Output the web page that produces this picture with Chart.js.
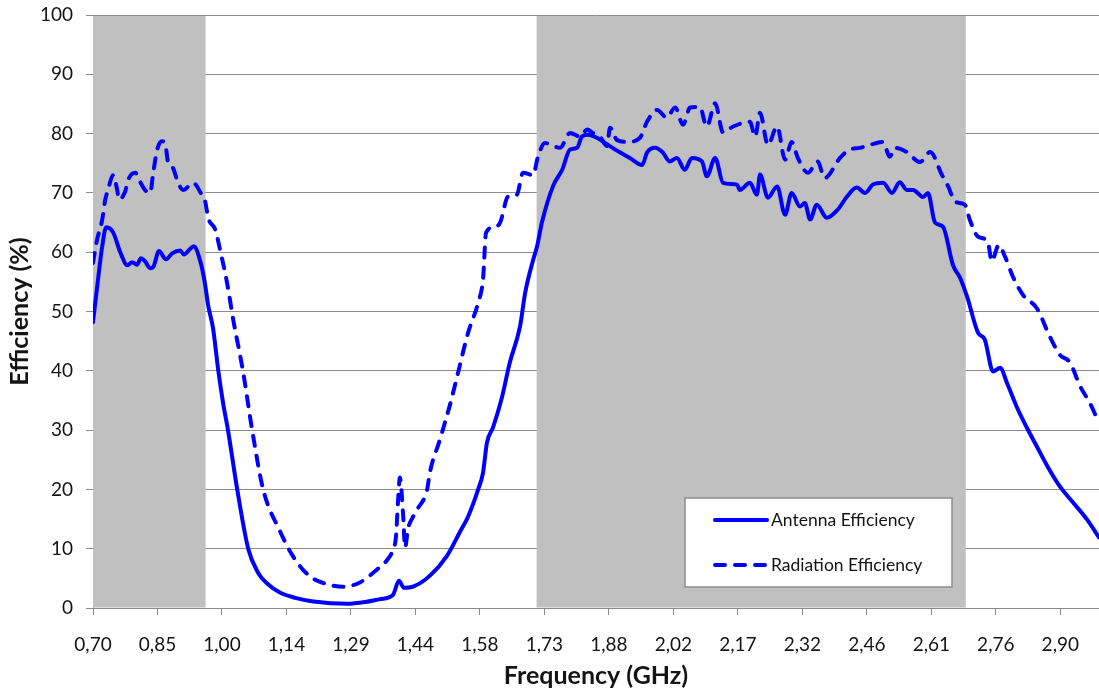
<!DOCTYPE html>
<html>
<head>
<meta charset="utf-8">
<script src="https://cdn.jsdelivr.net/npm/chart.js@4.4.0/dist/chart.umd.min.js"></script>
<style>
  html, body { margin: 0; padding: 0; background: #fff; }
  #wrap { width: 1099px; height: 693px; }
</style>
</head>
<body>
<div id="wrap"><canvas id="chart"></canvas></div>
<script>
// ================== Data ==================
const antFreq = [0.700,0.714,0.721,0.730,0.746,0.762,0.778,0.789,0.800,0.809,0.818,0.830,0.837,0.850,0.866,0.880,0.898,0.907,0.919,0.929,
  0.945,0.954,0.962,0.973,0.985,0.996,1.007,1.028,1.053,1.075,1.098,1.125,1.160,1.201,1.278,1.319,1.353,1.382,1.396,1.407,
  1.428,1.467,1.505,1.535,1.553,1.576,1.587,1.596,1.610,1.630,1.648,1.671,1.683,1.701,1.710,1.721,1.746,1.767,1.785,1.801,
  1.812,1.826,1.846,1.869,1.899,1.921,1.949,1.960,1.978,1.996,2.012,2.028,2.046,2.062,2.085,2.096,2.115,2.133,2.165,2.171,
  2.194,2.210,2.217,2.235,2.256,2.274,2.289,2.308,2.319,2.331,2.346,2.369,2.394,2.415,2.437,2.456,2.474,2.497,2.517,2.535,
  2.551,2.565,2.588,2.599,2.615,2.633,2.656,2.672,2.688,2.713,2.728,2.747,2.763,2.779,2.801,2.824,2.847,2.870,2.899,2.929,
  2.961,2.988];
const antEff = [48.2,57,61,64.2,63.3,60,57.8,58.3,57.9,59,58.5,57.3,57.5,60.2,58.8,59.8,60.3,59.6,60.4,61,
  58.2,55,51,47.2,40,34.5,30,20,10,6,4,2.6,1.7,1.1,0.7,1.0,1.5,2.2,4.6,3.4,
  3.6,5.5,8.8,12.9,15.4,20,22.8,27.9,30.5,35.5,41.4,47.4,53.2,58.7,61,65,71.1,73.9,77.3,77.6,
  79.5,79.8,79.3,78.2,76.8,75.9,74.7,76.8,77.6,76.8,75.3,75.9,73.9,75.9,75.3,72.8,75.9,71.7,71.4,70.5,
  71.7,69.7,73.1,69.2,71.1,66.3,70,67.7,68.3,65.5,68,65.8,67.2,69.4,70.9,70,71.4,71.7,70,71.8,
  70.5,70.5,69.3,70,65,64.3,57.8,55.7,52.5,46.4,45.3,39.9,40.5,37.9,33.9,30.4,27.2,24,20.5,17.8,
  14.9,11.9];

const radFreq = [0.700,0.709,0.721,0.728,0.734,0.746,0.755,0.759,0.773,0.780,0.796,0.807,0.818,0.830,0.837,0.846,0.857,0.864,0.871,0.882,
  0.891,0.905,0.928,0.945,0.955,0.962,0.978,0.989,1.005,1.019,1.041,1.062,1.087,1.125,1.155,1.194,1.239,1.269,1.307,1.346,
  1.369,1.382,1.389,1.394,1.398,1.405,1.410,1.416,1.428,1.439,1.460,1.466,1.489,1.512,1.528,1.553,1.576,1.587,1.594,1.614,
  1.626,1.644,1.664,1.678,1.701,1.712,1.728,1.762,1.785,1.808,1.824,1.837,1.853,1.869,1.876,1.892,1.915,1.944,1.960,1.983,
  2.005,2.024,2.042,2.058,2.080,2.096,2.115,2.133,2.156,2.194,2.206,2.217,2.235,2.256,2.274,2.289,2.303,2.326,2.348,2.364,
  2.399,2.421,2.444,2.467,2.497,2.512,2.524,2.551,2.581,2.604,2.631,2.645,2.661,2.683,2.694,2.713,2.735,2.744,2.760,2.774,
  2.792,2.815,2.847,2.876,2.899,2.922,2.945,2.967,2.988];
const radEff = [58.2,62,65.5,68.9,70.5,73,70.5,68.9,70.2,72.2,73.4,71.9,70.5,70,73.4,77.3,78.7,78.4,75,74.2,
  72.2,70.5,71.7,70,68.6,65.8,63.8,60.4,54.8,48.6,40,30,20,13,8.7,5.3,3.9,3.6,4.3,6.5,
  8.1,9.8,12,18.3,22,16.1,10.2,13.2,15.4,16.8,20,22.8,28.4,34.3,39,46.4,51.5,55.4,63.3,64.3,
  65,69.4,69.7,73.4,73,76.1,78.4,77.6,80.1,79.5,80.7,80.1,79.5,77.9,81,78.9,78.6,79.3,82,84,
  82.7,84.4,81.5,84.4,84.5,81.2,85.1,80.2,81.2,82,79.5,83.5,78.1,81.2,75.6,78.6,75.9,73.4,75.3,72.5,
  75.9,77.3,77.6,78.1,78.6,76.1,77.6,76.9,75.2,76.9,73,71.1,68.5,68,65.5,62.6,61.8,58.5,61.2,59.3,
  55.9,52.8,50.5,45.8,42.7,41.4,37.4,34.6,31.2];

// x axis ticks (Excel category labels)
const xTickValues = [0.7, 0.8467, 0.9933, 1.14, 1.2867, 1.4333, 1.58, 1.7267, 1.8733, 2.02, 2.1667, 2.3133, 2.46, 2.6067, 2.7533, 2.90];
const xTickLabels = ['0,70','0,85','1,00','1,14','1,29','1,44','1,58','1,73','1,88','2,02','2,17','2,32','2,46','2,61','2,76','2,90'];

// grey frequency bands
const bandStart = [0.700, 1.709];
const bandEnd = [0.956, 2.685];

const FONT = 'Lato, "Open Sans", sans-serif';
const TEXT = '#141414';
const GRID = '#8c8c8c';

// ================== Plugins ==================
// grey bands behind the curves (over the gridlines, like Excel)
const BandPlugin = {
  id: 'bands',
  beforeDatasetsDraw(chart) {
    const { ctx, chartArea: a, scales: { x } } = chart;
    ctx.save();
    ctx.fillStyle = '#c0c0c0';
    bandStart.forEach((s, i) => {
      const x0 = x.getPixelForValue(s);
      const x1 = x.getPixelForValue(bandEnd[i]);
      ctx.fillRect(x0, a.top + 1, x1 - x0, a.bottom - a.top - 1.5);
    });
    ctx.restore();
  }
};

// boxed legend inside the plot, bottom right
const BoxLegendPlugin = {
  id: 'boxLegend',
  afterDraw(chart, args, opts) {
    const { ctx } = chart;
    const { left, top, width, height } = opts;
    ctx.save();
    ctx.fillStyle = '#fff';
    ctx.fillRect(left, top, width, height);
    ctx.strokeStyle = GRID;
    ctx.lineWidth = 1.5;
    ctx.strokeRect(left, top, width, height);
    ctx.font = '17.5px ' + FONT;
    ctx.textBaseline = 'middle';
    ctx.fillStyle = TEXT;
    chart.data.datasets.forEach((ds, i) => {
      const y = top + 22 + i * 45;
      ctx.strokeStyle = ds.borderColor;
      ctx.lineWidth = ds.borderWidth;
      ctx.lineCap = 'round';
      ctx.setLineDash(ds.borderDash || []);
      ctx.beginPath();
      ctx.moveTo(left + 30, y);
      ctx.lineTo(left + 82, y);
      ctx.stroke();
      ctx.setLineDash([]);
      ctx.fillText(ds.label, left + 86, y);
    });
    ctx.restore();
  }
};

// ================== Chart ==================
new Chart(document.getElementById('chart'), {
  type: 'line',
  plugins: [BandPlugin, BoxLegendPlugin],
  data: {
    datasets: [
      {
        label: 'Antenna Efficiency',
        data: antFreq.map((f, i) => ({ x: f, y: antEff[i] })),
        borderColor: '#0000ff',
        borderWidth: 4,
        pointRadius: 0,
        cubicInterpolationMode: 'monotone',
        borderCapStyle: 'round',
        borderJoinStyle: 'round'
      },
      {
        label: 'Radiation Efficiency',
        data: radFreq.map((f, i) => ({ x: f, y: radEff[i] })),
        borderColor: '#0000ff',
        borderWidth: 4,
        borderDash: [10, 10],
        pointRadius: 0,
        cubicInterpolationMode: 'monotone',
        borderCapStyle: 'round',
        borderJoinStyle: 'round'
      }
    ]
  },
  options: {
    responsive: true,
    maintainAspectRatio: false,
    animation: false,
    layout: { padding: { top: 15, right: 0, left: 0, bottom: 0 } },
    plugins: {
      legend: { display: false },
      tooltip: { enabled: false },
      boxLegend: { left: 685, top: 498, width: 267, height: 89 }
    },
    scales: {
      x: {
        type: 'linear',
        min: 0.7,
        max: 2.988,
        afterBuildTicks(scale) {
          scale.ticks = xTickValues.map(v => ({ value: v }));
        },
        afterFit(scale) { scale.height = 85; },
        ticks: {
          autoSkip: false,
          maxRotation: 0,
          padding: 18,
          color: TEXT,
          font: { family: FONT, size: 19 },
          callback: (v, i) => xTickLabels[i]
        },
        grid: { drawOnChartArea: false, drawTicks: true, tickLength: 7, color: GRID, lineWidth: 1 },
        border: { color: GRID, width: 1 },
        title: {
          display: true,
          text: 'Frequency (GHz)',
          color: TEXT,
          font: { family: FONT, size: 25, weight: 'bold' },
          padding: { top: 0, bottom: 2 }
        }
      },
      y: {
        min: 0,
        max: 100,
        afterFit(scale) {
          scale.width = 93;
          scale.paddingTop = 0;
        },
        ticks: {
          stepSize: 10,
          padding: 13,
          color: TEXT,
          font: { family: FONT, size: 19 }
        },
        grid: { color: GRID, lineWidth: 1, tickLength: 7 },
        border: { color: GRID, width: 1 },
        title: {
          display: true,
          text: 'Efficiency (%)',
          color: TEXT,
          font: { family: FONT, size: 25, weight: 'bold' },
          padding: { top: 5, bottom: 0 }
        }
      }
    }
  }
});
</script>
</body>
</html>
